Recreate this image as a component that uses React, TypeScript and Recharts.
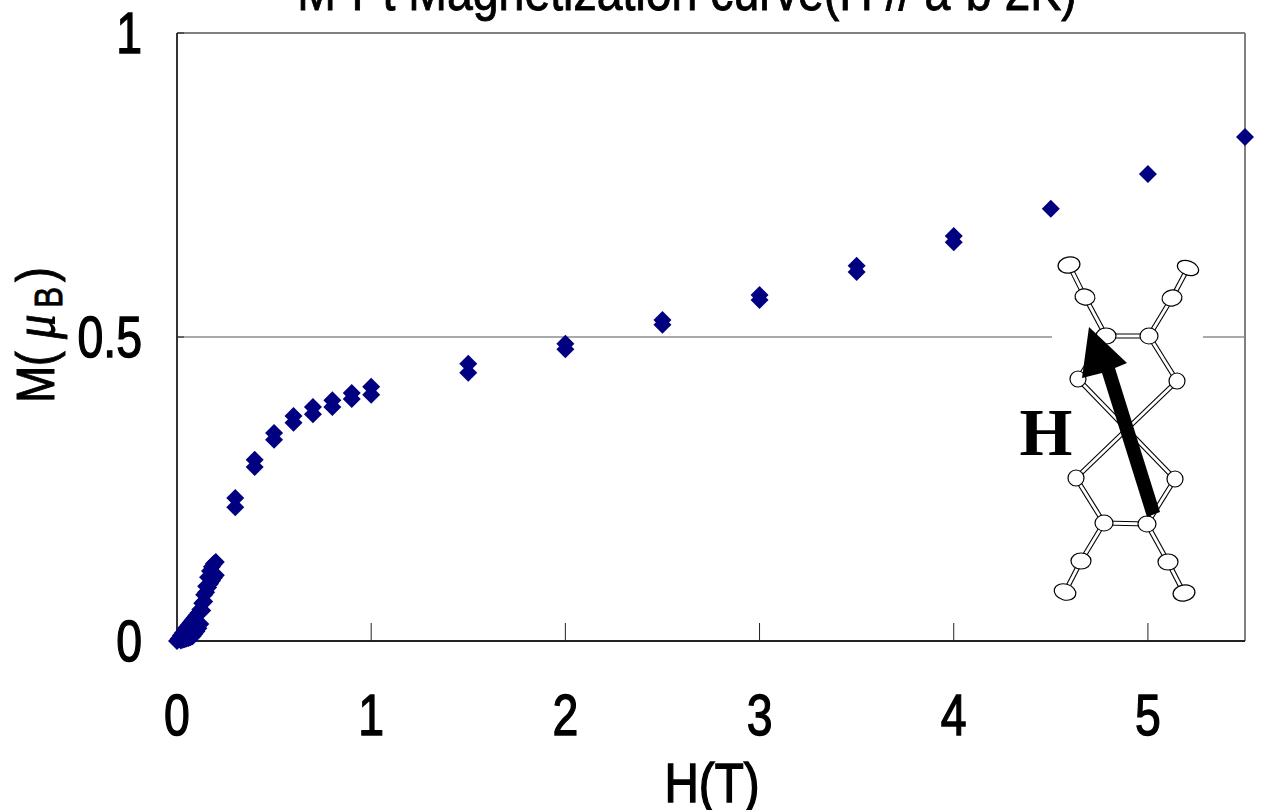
import React from "react";
import { ScatterChart, Scatter, XAxis, YAxis, CartesianGrid, ReferenceLine } from "recharts";

const upperH = [0, 0.01, 0.02, 0.03, 0.04, 0.05, 0.06, 0.07, 0.08, 0.09, 0.1, 0.11, 0.12, 0.13, 0.14, 0.15, 0.16, 0.17, 0.18, 0.19, 0.2, 0.3, 0.4, 0.5, 0.6, 0.7, 0.8, 0.9, 1, 1.5, 2, 2.5, 3, 3.5, 4, 4.5, 5, 5.5];
const upperM = [0, 0.004, 0.009, 0.013, 0.018, 0.022, 0.026, 0.03, 0.034, 0.038, 0.042, 0.046, 0.052, 0.062, 0.076, 0.09, 0.105, 0.115, 0.122, 0.127, 0.13, 0.235, 0.298, 0.342, 0.37, 0.385, 0.396, 0.408, 0.418, 0.456, 0.489, 0.528, 0.569, 0.617, 0.666, 0.711, 0.768, 0.829];
const lowerH = [0.02, 0.03, 0.04, 0.05, 0.06, 0.07, 0.08, 0.09, 0.1, 0.11, 0.12, 0.13, 0.14, 0.15, 0.16, 0.17, 0.18, 0.19, 0.2, 0.3, 0.4, 0.5, 0.6, 0.7, 0.8, 0.9, 1, 1.5, 2, 2.5, 3, 3.5, 4];
const lowerM = [0.001, 0.002, 0.003, 0.004, 0.005, 0.006, 0.008, 0.012, 0.016, 0.021, 0.028, 0.05, 0.065, 0.08, 0.088, 0.094, 0.099, 0.104, 0.108, 0.22, 0.286, 0.331, 0.359, 0.373, 0.385, 0.398, 0.405, 0.441, 0.48, 0.52, 0.561, 0.607, 0.656];
const xTicks = [0, 1, 2, 3, 4, 5];
const yTicks = [0, 0.5, 1];
const TITLE = "M-Pt Magnetization curve(H // a·b 2K)";
const X_LABEL = "H(T)";
const upper = upperH.map((H, i) => ({ H, M: upperM[i] }));
const lower = lowerH.map((H, i) => ({ H, M: lowerM[i] }));

const FONT = "'Liberation Sans', sans-serif";
const NAVY = "#000080";

const Diamond = (p: any) => (
  <path d={`M${p.cx} ${p.cy - 9}L${p.cx + 9} ${p.cy}L${p.cx} ${p.cy + 9}L${p.cx - 9} ${p.cy}Z`} fill={NAVY} />
);

const Stretched = ({ x, y, children, sx = 0.8, size = 58, anchor = "middle", rotate = 0, sw = 1.4 }: any) => (
  <text
    transform={`translate(${x} ${y}) rotate(${rotate}) scale(${sx} 1)`}
    textAnchor={anchor}
    fontFamily={FONT}
    fontSize={size}
    fill="#000"
    stroke="#000"
    strokeWidth={sw}
  >
    {children}
  </text>
);

const XTick = (p: any) => <Stretched x={p.x} y={735}>{p.payload.value}</Stretched>;
const YTick = (p: any) => <Stretched x={142} y={p.y + 20} anchor="end">{p.payload.value}</Stretched>;

const Bond = ({ a, b }: { a: number[]; b: number[] }) => (
  <g>
    <line x1={a[0]} y1={a[1]} x2={b[0]} y2={b[1]} stroke="#000" strokeWidth={5} />
    <line x1={a[0]} y1={a[1]} x2={b[0]} y2={b[1]} stroke="#fff" strokeWidth={2.8} />
  </g>
);

const atoms: number[][] = [
  [1069, 265, 11, 8, -10], [1085, 297, 10, 8, 10], [1106, 336, 10, 8, 0], [1149, 336, 9, 8, 0], [1177, 381, 8, 8, 0], [1078, 379, 8, 8, 0],
  [1172, 298, 10, 8, -10], [1188, 268, 11, 7, 20], [1076, 478, 8, 8, 0], [1175, 479, 8, 8, 0], [1104, 523, 9, 8, 0], [1147, 524, 9, 8, 0],
  [1081, 561, 10, 8, 0], [1168, 562, 10, 8, 0], [1065, 592, 11, 8, 15], [1184, 593, 11, 8, -10],
];
const bonds = [[0, 1], [1, 2], [2, 3], [3, 4], [2, 5], [3, 6], [6, 7], [5, 9], [4, 8], [8, 10], [10, 11], [11, 9], [10, 12], [12, 14], [11, 13], [13, 15]];

function Inset() {
  return (
    <svg width={1261} height={810} style={{ position: "absolute", left: 0, top: 0, pointerEvents: "none" }}>
      <rect x={1052} y={325} width={151} height={20} fill="#fff" />
      {bonds.map(([i, j], k) => (
        <Bond key={k} a={atoms[i]} b={atoms[j]} />
      ))}
      {atoms.map(([x, y, rx, ry, r], k) => (
        <ellipse key={k} cx={x} cy={y} rx={rx} ry={ry} transform={`rotate(${r} ${x} ${y})`} fill="#fff" stroke="#000" strokeWidth={1.2} />
      ))}
      <polygon points="1147,517 1160,512 1115,368 1127,363 1089,327 1082,378 1102,373" fill="#000" />
      <text x={1046} y={455} textAnchor="middle" fontFamily="'Liberation Serif', serif" fontWeight="bold" fontSize={68} fill="#000">H</text>
    </svg>
  );
}

export default function App() {
  return (
    <div style={{ position: "absolute", left: 0, top: 0, width: 1261, height: 810, overflow: "hidden", background: "#fff" }}>
      <ScatterChart width={1261} height={810} margin={{ top: 33, right: 16, bottom: 0, left: 0 }}>
        <CartesianGrid horizontal vertical={false} horizontalValues={[0.5]} stroke="#555" strokeWidth={1} />
        <ReferenceLine y={1} stroke="#808080" strokeWidth={2} ifOverflow="visible" />
        <ReferenceLine x={5.5} stroke="#808080" strokeWidth={2} ifOverflow="visible" />
        <XAxis type="number" dataKey="H" domain={[0, 5.5]} ticks={xTicks} tick={XTick} tickSize={-18} height={169} axisLine={{ stroke: "#222", strokeWidth: 2 }} tickLine={{ stroke: "#222", strokeWidth: 1 }} />
        <YAxis type="number" dataKey="M" domain={[0, 1]} ticks={yTicks} tick={YTick} tickSize={-7} width={177} axisLine={{ stroke: "#333", strokeWidth: 2 }} tickLine={{ stroke: "#222", strokeWidth: 1 }} />
        <Scatter data={upper} shape={Diamond} isAnimationActive={false} />
        <Scatter data={lower} shape={Diamond} isAnimationActive={false} />
        <text textAnchor="middle" transform="translate(687 10) scale(0.86 1)" fontFamily={FONT} fontSize={54} stroke="#000" strokeWidth={0.9}>{TITLE}</text>
        <Stretched x={712} y={802} sx={0.85} size={56}>{X_LABEL}</Stretched>
        <Stretched x={54} y={335} rotate={-90} size={54} sx={0.82} sw={1}>
          M{"( "}
          <tspan fontFamily="'Liberation Serif', serif" fontStyle="italic" fontSize={60}>μ</tspan>
          <tspan fontSize={38} dx={8} dy={8}>B</tspan>
          <tspan dx={6} dy={-8}>)</tspan>
        </Stretched>
      </ScatterChart>
      <Inset />
    </div>
  );
}
